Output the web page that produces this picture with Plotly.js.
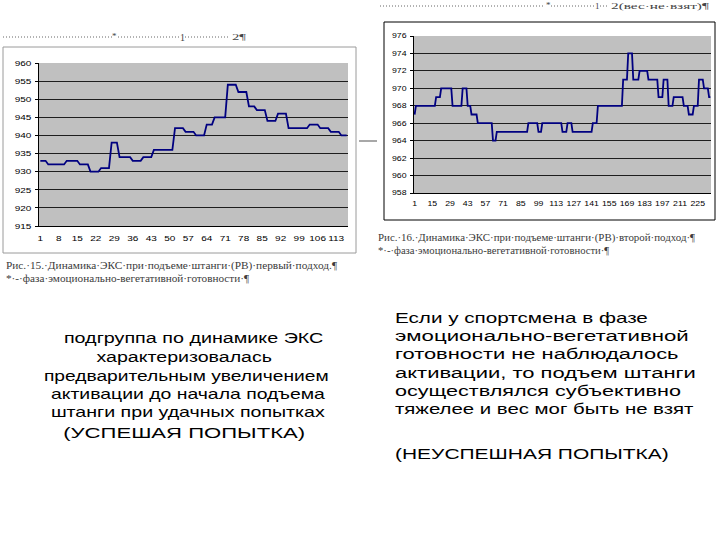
<!DOCTYPE html>
<html>
<head>
<meta charset="utf-8">
<script src="https://cdn.plot.ly/plotly-3.0.1.min.js"></script>
<style>
html,body{margin:0;padding:0;background:#fff;}
#chart{width:720px;height:540px;}
</style>
</head>
<body>
<div id="chart"></div>
<script>
// ---- data ----
// Рис. 15 – первый подход (ЭКС), 117 отсчётов
const leftValues = [
  933,933,933,
  932,932,932,932,932,932,932,
  933,933,933,933,933,
  932,932,932,932,
  930,930,930,930,
  931,931,931,931,
  938,938,938,
  934,934,934,934,934,
  933,933,933,933,
  934,934,934,934,
  936,936,936,936,936,936,936,936,
  942,942,942,942,
  941,941,941,941,
  940,940,940,940,
  943,943,943,
  945,945,945,945,945,
  954,954,954,954,
  952,952,952,952,
  948,948,948,
  947,947,947,947,
  944,944,944,944,
  946,946,946,946,
  942,942,942,942,942,942,942,942,
  943,943,943,943,
  942,942,942,942,
  941,941,941,941,
  940,940,940
];
// Рис. 16 – второй подход (ЭКС), 235 отсчётов
const rightValues = [
  967,
  968,968,968,968,968,968,968,968,968,968,968,968,968,968,968,968,
  969,969,969,969,
  970,970,970,970,970,970,970,970,970,
  968,968,968,968,968,968,968,968,
  970,970,970,970,
  968,968,968,
  967,967,967,967,967,
  966,966,966,966,966,966,966,966,966,966,966,966,
  964,964,964,
  965,965,965,965,965,965,965,965,965,965,965,965,965,965,965,965,965,965,965,965,965,965,965,965,965,
  966,966,966,966,966,966,966,966,
  965,965,965,
  966,966,966,966,966,966,966,966,966,966,966,966,966,966,966,966,
  965,965,965,965,
  966,966,966,966,
  965,965,965,965,965,965,965,965,965,965,965,965,965,965,965,965,
  966,966,966,966,
  968,968,968,968,968,968,968,968,968,968,968,968,968,968,968,968,968,968,968,968,
  971,971,971,971,
  974,974,974,974,
  971,971,971,971,971,
  972,972,972,972,972,972,972,
  971,971,971,971,971,971,971,971,
  969,969,969,969,
  971,971,971,971,
  968,968,968,968,
  969,969,969,969,969,969,969,969,
  968,968,968,968,
  967,967,967,967,
  968,968,968,968,
  971,971,971,971,
  970,970,970,970,
  969,969
];
const leftTickLabels  = [1,8,15,22,29,36,43,50,57,64,71,78,85,92,99,106,113];
const rightTickLabels = [1,15,29,43,57,71,85,99,113,127,141,155,169,183,197,211,225];
const leftYTicks  = [915,920,925,930,935,940,945,950,955,960];
const rightYTicks = [958,960,962,964,966,968,970,972,974,976];

// ---- page geometry helpers (pixels -> paper) ----
const W = 720, H = 540;
const X = px => px / W;
const Y = py => 1 - py / H;

const LINE = '#000080';
const SANS = 'Liberation Sans, Arial, sans-serif';
const SERIF = 'Liberation Serif, Times New Roman, serif';

const traces = [
  {type:'scatter', mode:'lines', x0:1, dx:1, y:leftValues, xaxis:'x', yaxis:'y',
   line:{color:LINE, width:1.8}, hoverinfo:'skip'},
  {type:'scatter', mode:'lines', x0:1, dx:1, y:rightValues, xaxis:'x2', yaxis:'y2',
   line:{color:LINE, width:1.8}, hoverinfo:'skip'}
];

function xAxis(domain, n, ticks, size){
  return {
    domain: domain, range:[0.5, n + 0.5], fixedrange:true,
    tickmode:'array', tickvals:ticks, ticktext:ticks.map(String),
    ticks:'', showgrid:false, zeroline:false,
    showline:true, linecolor:'#000', linewidth:1,
    ticklabelstandoff: 4,
    tickfont:{family:SANS, size:size, color:'#000'}
  };
}
// category boundary tick marks (Excel style), on an overlaid axis
function tickAxis(domain, n, over, anchor){
  return {
    domain: domain, range:[0.5, n + 0.5], fixedrange:true,
    overlaying: over, anchor: anchor, side:'bottom',
    tickmode:'linear', tick0:0.5, dtick:1,
    ticks:'outside', ticklen:3, tickcolor:'#000', tickwidth:1,
    showticklabels:false, showgrid:false, zeroline:false, showline:false
  };
}
function yAxis(domain, range, ticks, size, anchor){
  return {
    domain: domain, range: range, fixedrange:true, anchor: anchor,
    tickmode:'array', tickvals:ticks, ticktext:ticks.map(String),
    ticks:'outside', ticklen:3, tickcolor:'#000',
    showgrid:true, gridcolor:'#1e1e1e', gridwidth:1, zeroline:false,
    showline:true, linecolor:'#000', linewidth:1,
    ticklabelstandoff: 2,
    tickfont:{family:SANS, size:size, color:'#000'}
  };
}

// ---- text on the slide ----
const textItems = [
  // top dotted lines markers
  {t:'*', x:115, y:36, a:'center', f:SERIF, s:9, c:'#444'},
  {t:'1', x:182, y:37, a:'center', f:SERIF, s:10, c:'#444'},
  {t:'2¶', x:231, y:37, a:'left', f:SERIF, s:9, c:'#444', w:14},
  {t:'*', x:548, y:5, a:'center', f:SERIF, s:9, c:'#444'},
  {t:'1', x:597, y:6, a:'center', f:SERIF, s:9, c:'#444'},
  {t:'2(вес·не·взят)¶', x:610, y:6, a:'left', f:SERIF, s:9, c:'#444', w:98},
  // captions
  {t:'Рис.·15.·Динамика·ЭКС·при·подъеме·штанги·(РВ)·первый·подход.¶', x:5, y:266, a:'left', f:SERIF, s:10, c:'#3a3a3a', w:332},
  {t:'*·-·фаза·эмоционально-вегетативной·готовности·¶', x:5, y:278, a:'left', f:SERIF, s:10, c:'#3a3a3a', w:244},
  {t:'Рис.·16.·Динамика·ЭКС·при·подъеме·штанги·(РВ)·второй·подход·¶', x:377, y:238, a:'left', f:SERIF, s:10, c:'#3a3a3a', w:318},
  {t:'*·-·фаза·эмоционально-вегетативной·готовности·¶', x:377, y:250, a:'left', f:SERIF, s:10, c:'#3a3a3a', w:232},
  // left text block (centered)
  {t:'подгруппа по динамике ЭКС', x:193, y:337, a:'center', f:SANS, s:15, c:'#000', w:260},
  {t:'характеризовалась', x:185, y:356, a:'center', f:SANS, s:15, c:'#000', w:176},
  {t:'предварительным увеличением', x:186, y:375, a:'center', f:SANS, s:15, c:'#000', w:285},
  {t:'активации до начала подъема', x:188, y:393, a:'center', f:SANS, s:15, c:'#000', w:275},
  {t:'штанги при удачных попытках', x:188, y:411, a:'center', f:SANS, s:15, c:'#000', w:275},
  {t:'(УСПЕШАЯ ПОПЫТКА)', x:184, y:432, a:'center', f:SANS, s:15, c:'#000', w:242},
  // right text block (left aligned)
  {t:'Если у спортсмена в фазе', x:394, y:317, a:'left', f:SANS, s:15, c:'#000', w:253},
  {t:'эмоционально-вегетативной', x:394, y:335, a:'left', f:SANS, s:15, c:'#000', w:294},
  {t:'готовности не наблюдалось', x:394, y:353, a:'left', f:SANS, s:15, c:'#000', w:284},
  {t:'активации, то подъем штанги', x:394, y:372, a:'left', f:SANS, s:15, c:'#000', w:301},
  {t:'осуществлялся субъективно', x:394, y:390, a:'left', f:SANS, s:15, c:'#000', w:286},
  {t:'тяжелее и вес мог быть не взят', x:394, y:408, a:'left', f:SANS, s:15, c:'#000', w:299},
  {t:'(НЕУСПЕШНАЯ ПОПЫТКА)', x:394, y:453, a:'left', f:SANS, s:15, c:'#000', w:274}
];

const annotations = textItems.map(it => ({
  xref:'paper', yref:'paper', x:X(it.x), y:Y(it.y), text:it.t,
  xanchor:it.a, yanchor:'middle', align:it.a, showarrow:false, borderpad:0,
  font:{family:it.f, size:it.s, color:it.c}
}));

function hline(x0, x1, y, color, width, dash){
  return {type:'line', xref:'paper', yref:'paper', x0:X(x0), x1:X(x1), y0:Y(y), y1:Y(y),
          line:{color:color, width:width, dash:dash || 'solid'}};
}
const shapes = [
  // left chart frame
  {type:'rect', xref:'paper', yref:'paper', x0:X(3), x1:X(356), y0:Y(253), y1:Y(47),
   line:{color:'#9a9a9a', width:1}},
  // right chart frame
  {type:'rect', xref:'paper', yref:'paper', x0:X(384), x1:X(715), y0:Y(220), y1:Y(22),
   line:{color:'#000', width:1}},
  // small gray dash between charts
  hline(359, 377, 141, '#a8a8a8', 2),
  // dotted formatting marks on top
  hline(3, 112, 37, '#666', 1, '1px,2px'),
  hline(118, 179, 37, '#666', 1, '1px,2px'),
  hline(185, 230, 37, '#666', 1, '1px,2px'),
  hline(380, 545, 6, '#666', 1, '1px,2px'),
  hline(551, 594, 6, '#666', 1, '1px,2px'),
  hline(600, 609, 6, '#666', 1, '1px,2px')
];

const LXD = [X(39), X(348)], RXD = [X(414), X(711)];
const layout = {
  width:W, height:H, autosize:false,
  margin:{l:0, r:0, t:0, b:0},
  paper_bgcolor:'#fff', plot_bgcolor:'#c0c0c0',
  showlegend:false,
  xaxis:  xAxis(LXD, leftValues.length, leftTickLabels, 8),
  yaxis:  yAxis([Y(226), Y(63)], [915, 960], leftYTicks, 8, 'x'),
  xaxis2: Object.assign(xAxis(RXD, rightValues.length, rightTickLabels, 7), {anchor:'y2'}),
  yaxis2: yAxis([Y(193), Y(36)], [958, 976], rightYTicks, 7, 'x2'),
  xaxis3: tickAxis(LXD, leftValues.length, 'x', 'y'),
  xaxis4: tickAxis(RXD, rightValues.length, 'x2', 'y2'),
  annotations: annotations,
  shapes: shapes
};

function stretch(el, s){
  const x = parseFloat(el.getAttribute('x')) || 0;
  const tr = el.getAttribute('transform') || '';
  el.setAttribute('transform', tr + ' translate(' + x + ',0) scale(' + s + ',1) translate(' + (-x) + ',0)');
}

const gd = document.getElementById('chart');
Plotly.newPlot(gd, traces, layout, {staticPlot:true, displayModeBar:false}).then(function(){
  gd.querySelectorAll('g.annotation').forEach(function(g){
    const i = +g.getAttribute('data-index');
    const it = textItems[i];
    const t = g.querySelector('text.annotation-text');
    if(!t || !it || !it.w) return;
    const bw = t.getBBox().width;
    if(bw > 0) stretch(t, it.w / bw);
  });
  gd.querySelectorAll('.xtick text, .ytick text').forEach(t => stretch(t, 1.25));
  gd.querySelectorAll('.x2tick text, .y2tick text').forEach(t => stretch(t, 1.25));
});
</script>
</body>
</html>
